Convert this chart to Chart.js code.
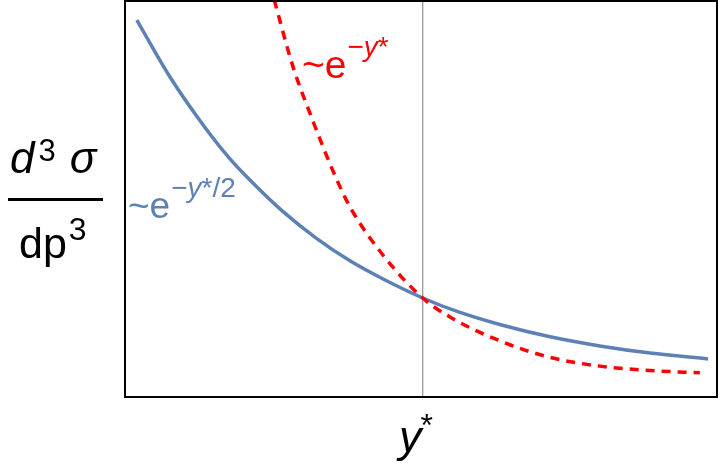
<!DOCTYPE html>
<html>
<head>
<meta charset="utf-8">
<script src="https://cdn.jsdelivr.net/npm/chart.js@4"></script>
<style>
    html, body { margin: 0; padding: 0; background: #fff; }
    #wrap { position: relative; width: 720px; height: 469px; font-family: "Liberation Sans", Arial, sans-serif; }
    #chart { position: absolute; left: 0; top: 0; }
    .lbl { position: absolute; line-height: 1; white-space: nowrap; }
    .up { position: relative; }
    .bar { position: absolute; background: #000; }
</style>
</head>
<body>
<div id="wrap">
    <canvas id="chart" width="720" height="469"></canvas>

    <!-- y axis title, drawn as a fraction -->
    <div class="lbl" style="left:10px; top:136px; font-size:44px;"><i>d</i><span class="up" style="font-size:31px; top:-12px; margin-left:4px;">3</span><i style="margin-left:14px;">σ</i></div>
    <div class="bar" style="left:8px; top:198px; width:95px; height:3px;"></div>
    <div class="lbl" style="left:19px; top:222px; font-size:43px;">dp<span class="up" style="font-size:32px; top:-18px; margin-left:2px;">3</span></div>

    <!-- x axis title -->
    <div class="lbl" style="left:399px; top:414px; font-size:45px;"><i>y</i><span class="up" style="font-size:32px; top:-16px; margin-left:-1px;">*</span></div>

    <!-- curve labels -->
    <div class="lbl" style="left:128px; top:187px; font-size:37px; color:#5E81B5;">~e<span class="up" style="font-size:28px; top:-21px; margin-left:1px;">−<i>y</i>*/2</span></div>
    <div class="lbl" style="left:302px; top:45px; font-size:39px; color:#FF0000;">~e<span class="up" style="font-size:28px; top:-22px; margin-left:1px;">−<i>y</i>*</span></div>
</div>

<script>
    // values (y* on x, d3sigma/dp3 on y, arbitrary units)
    var blueX = [0.2, 0.76, 1.32, 1.77, 2.11, 2.67, 3.24, 3.80, 4.36, 5.03, 5.61, 6.33, 7.18, 8.02, 8.87, 9.85];
    var blueY = [9.52, 8.08, 6.87, 6.02, 5.48, 4.68, 4.0, 3.44, 2.98, 2.5, 2.16, 1.83, 1.52, 1.29, 1.11, 0.96];

    var redX = [2.52, 2.84, 3.18, 3.51, 3.80, 4.36, 5.03, 5.49, 6.33, 7.18, 8.02, 8.87, 9.71];
    var redY = [10.03, 8.33, 6.95, 5.72, 4.8, 3.58, 2.5, 2.02, 1.42, 1.0, 0.78, 0.67, 0.61];

    var markX = [5.03, 5.03];
    var markY = [0, 10];

    var xMin = 0, xMax = 10;
    var yMin = 0, yMax = 10;

    function pts(xs, ys) {
        return xs.map(function(x, i) { return { x: x, y: ys[i] }; });
    }

    var framePlugin = {
        id: 'frame',
        afterDraw: function(chart) {
            var a = chart.chartArea, c = chart.ctx;
            c.save();
            c.strokeStyle = '#000';
            c.lineWidth = 2;
            c.strokeRect(a.left, a.top, a.right - a.left, a.bottom - a.top);
            c.restore();
        }
    };

    var ctx = document.getElementById("chart").getContext("2d");
    new Chart(ctx, {
        type: 'line',
        data: {
            datasets: [{
                label: 'e^-y*',
                data: pts(redX, redY),
                borderColor: '#FF0000',
                borderWidth: 3.5,
                borderDash: [9, 7],
                cubicInterpolationMode: 'monotone',
                pointRadius: 0,
                fill: false,
                order: 0
            }, {
                label: 'e^-y*/2',
                data: pts(blueX, blueY),
                borderColor: '#5E81B5',
                borderWidth: 3.5,
                cubicInterpolationMode: 'monotone',
                pointRadius: 0,
                fill: false,
                order: 1
            }, {
                label: 'y*=0',
                data: pts(markX, markY),
                borderColor: '#7a7a7a',
                borderWidth: 1,
                pointRadius: 0,
                fill: false,
                order: 2
            }]
        },
        options: {
            responsive: false,
            animation: false,
            devicePixelRatio: 1,
            layout: { padding: { left: 125, right: 3, top: 1, bottom: 72 } },
            plugins: {
                legend: { display: false },
                tooltip: { enabled: false }
            },
            scales: {
                x: { type: 'linear', min: xMin, max: xMax, display: false },
                y: { type: 'linear', min: yMin, max: yMax, display: false }
            }
        },
        plugins: [framePlugin]
    });
</script>
</body>
</html>
